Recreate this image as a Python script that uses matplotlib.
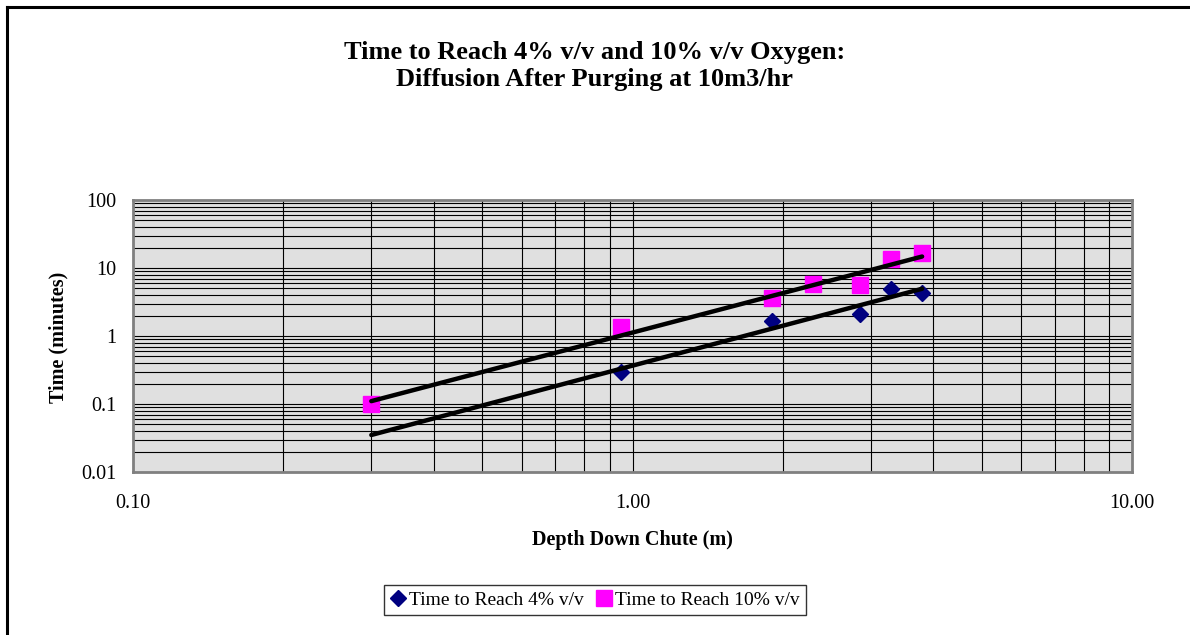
import numpy as np
import matplotlib.pyplot as plt
import matplotlib.ticker as ticker
from matplotlib.lines import Line2D

plt.rcParams['font.family'] = ['Liberation Serif', 'DejaVu Serif']

# data
depth = [0.3, 0.95, 1.9, 2.3, 2.85, 3.3, 3.8]
t_4pct = [np.nan, 0.3, 1.68, np.nan, 2.1, 4.85, 4.35]
t_10pct = [0.1, 1.34, 3.58, 5.75, 5.6, 13.4, 16.5]

x_ticks = [0.1, 1.0, 10.0]
y_ticks = [0.01, 0.1, 1, 10, 100]

fig = plt.figure(figsize=(11.9, 6.35), dpi=100)
ax = fig.add_axes([133/1190, 1-472/635, 999/1190, 272/635])
ax.set_facecolor('#e0e0e0')

d = np.array(depth)
a = np.array(t_4pct)
b = np.array(t_10pct)

ax.plot(d, a, 'D', color='#000080', ms=8.5, mec='#000080', zorder=3)
ax.plot(d, b, 's', color='#ff00ff', ms=11, mec='#ff00ff', zorder=3)

# power trendlines (fit in log space, like excel)
xx = np.array([d.min(), d.max()])
for y in (a, b):
    ok = ~np.isnan(y)
    k, c = np.polyfit(np.log10(d[ok]), np.log10(y[ok]), 1)
    ax.plot(xx, 10**c * xx**k, color='black', lw=3.2, solid_capstyle='round', zorder=4)

ax.set_xscale('log')
ax.set_yscale('log')
ax.set_xlim(0.1, 10)
ax.set_ylim(0.01, 100)
ax.set_xticks(x_ticks)
ax.set_xticklabels(['%.2f' % v for v in x_ticks])
ax.set_yticks(y_ticks)
ax.set_yticklabels(['%g' % v for v in y_ticks])
ax.xaxis.set_minor_locator(ticker.LogLocator(subs=np.arange(2, 10)))
ax.yaxis.set_minor_locator(ticker.LogLocator(subs=np.arange(2, 10)))
ax.xaxis.set_minor_formatter(ticker.NullFormatter())
ax.yaxis.set_minor_formatter(ticker.NullFormatter())
ax.tick_params(which='both', length=0)
ax.tick_params(axis='x', pad=16, labelsize=14.5)
ax.tick_params(axis='y', pad=12, labelsize=14.5)
ax.grid(which='both', color='black', lw=0.8)
ax.set_axisbelow(True)
for s in ax.spines.values():
    s.set_color('#808080')
    s.set_linewidth(2)

fig.text(0.5, 1-66/635, 'Time to Reach 4% v/v and 10% v/v Oxygen:\nDiffusion After Purging at 10m3/hr',
         ha='center', va='center', fontsize=19, fontweight='bold', linespacing=1.2)
fig.text(58/1190, 1-337/635, 'Time (minutes)', rotation=90, ha='center', va='center',
         fontsize=14.5, fontweight='bold')
fig.text(632/1190, 1-540/635, 'Depth Down Chute (m)', ha='center', va='center',
         fontsize=14.5, fontweight='bold')

handles = [Line2D([], [], ls='none', marker='D', color='#000080', ms=8.5),
           Line2D([], [], ls='none', marker='s', color='#ff00ff', ms=11)]
leg = fig.legend(handles, ['Time to Reach 4% v/v', 'Time to Reach 10% v/v'],
                 loc='center', bbox_to_anchor=(0.5, 1-600/635), ncol=2, fontsize=14,
                 frameon=True, fancybox=False, edgecolor='black', borderpad=0.3,
                 handlelength=0.8, handletextpad=0.2, columnspacing=0.6, borderaxespad=0)
leg.get_frame().set_linewidth(1)

# chart border (only left and top visible in the crop)
fig.add_artist(Line2D([7/1190, 7/1190], [0, 1-7/635], color='black', lw=2.2, transform=fig.transFigure))
fig.add_artist(Line2D([7/1190, 1], [1-7/635, 1-7/635], color='black', lw=2.2, transform=fig.transFigure))

fig.savefig('out.png', dpi=100)
